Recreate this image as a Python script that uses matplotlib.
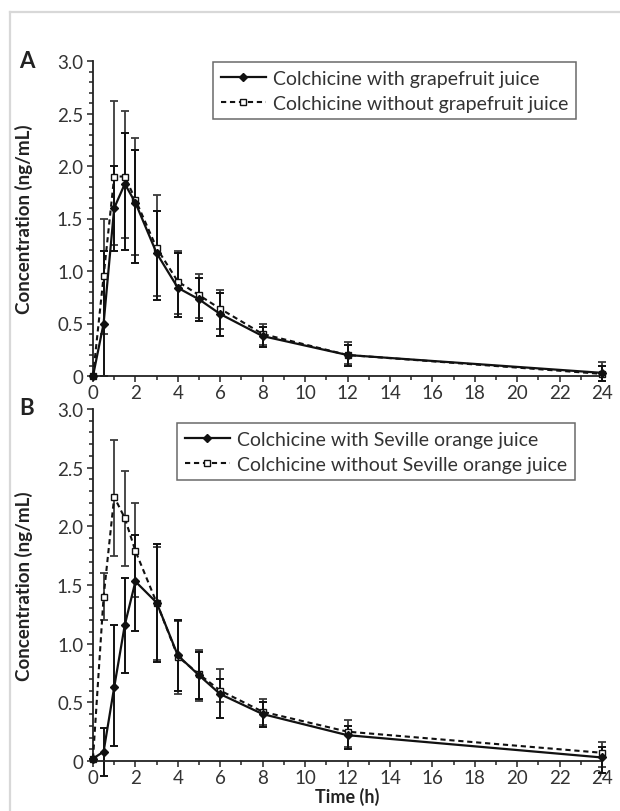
import numpy as np
import matplotlib
matplotlib.use("Agg")
import matplotlib.pyplot as plt
from matplotlib.lines import Line2D
from matplotlib.ticker import MultipleLocator, FuncFormatter

plt.rcParams["font.family"] = ["Lato", "DejaVu Sans"]

# sampling times (h)
times = [0, 0.5, 1, 1.5, 2, 3, 4, 5, 6, 8, 12, 24]

# Panel A: grapefruit juice
a_with = [0, 0.50, 1.60, 1.83, 1.65, 1.17, 0.84, 0.73, 0.59, 0.38, 0.20, 0.03]
a_with_lo = [0, 0.00, 1.19, 1.20, 1.08, 0.72, 0.56, 0.52, 0.38, 0.28, 0.10, -0.05]
a_with_hi = [0, 1.19, 2.00, 2.31, 2.15, 1.57, 1.17, 0.93, 0.79, 0.47, 0.30, 0.10]
a_wo = [0, 0.95, 1.90, 1.90, 1.68, 1.22, 0.90, 0.77, 0.64, 0.40, 0.20, 0.02]
a_wo_lo = [0, 0.40, 1.25, 1.31, 1.15, 0.76, 0.59, 0.55, 0.45, 0.30, 0.11, -0.05]
a_wo_hi = [0, 1.50, 2.62, 2.52, 2.27, 1.72, 1.19, 0.97, 0.82, 0.50, 0.32, 0.13]

# Panel B: Seville orange juice
b_with = [0.02, 0.08, 0.63, 1.16, 1.53, 1.35, 0.90, 0.73, 0.57, 0.40, 0.22, 0.03]
b_with_lo = [0.02, -0.13, 0.13, 0.75, 1.11, 0.84, 0.60, 0.53, 0.37, 0.29, 0.10, -0.10]
b_with_hi = [0.02, 0.28, 1.16, 1.56, 1.93, 1.85, 1.20, 0.93, 0.70, 0.50, 0.30, 0.12]
b_wo = [0.02, 1.40, 2.25, 2.07, 1.79, 1.35, 0.89, 0.74, 0.60, 0.42, 0.25, 0.07]
b_wo_lo = [0.02, 1.20, 1.75, 1.66, 1.40, 0.86, 0.57, 0.51, 0.50, 0.31, 0.12, -0.05]
b_wo_hi = [0.02, 1.60, 2.74, 2.47, 2.20, 1.82, 1.19, 0.95, 0.78, 0.53, 0.35, 0.16]

panels = [
    ("A", "grapefruit juice", a_with, a_with_lo, a_with_hi, a_wo, a_wo_lo, a_wo_hi),
    ("B", "Seville orange juice", b_with, b_with_lo, b_with_hi, b_wo, b_wo_lo, b_wo_hi),
]

W, H = 620, 812
fig = plt.figure(figsize=(W / 100, H / 100), dpi=100)

# page frame (top and left edge only)
fig.add_artist(Line2D([10 / W, 1], [1 - 13 / H, 1 - 13 / H], color="#d8d8d8", lw=1.6))
fig.add_artist(Line2D([10 / W, 10 / W], [0, 1 - 13 / H], color="#d8d8d8", lw=1.6))

ax_rects = [
    [93 / W, 1 - 377 / H, 509 / W, 315 / H],
    [93 / W, 1 - 762 / H, 509 / W, 352 / H],
]
legend_anchor = [(213 / W, 1 - 63 / H), (177 / W, 1 - 424 / H)]
letter_y = [62, 409]

fs = 13.5


def fmt_y(v, _):
    return "0" if abs(v) < 1e-9 else f"{v:.1f}"


for i, (letter, juice, w, wlo, whi, wo, wolo, wohi) in enumerate(panels):
    ax = fig.add_axes(ax_rects[i])
    t = np.array(times)
    w, wlo, whi = np.array(w), np.array(wlo), np.array(whi)
    wo, wolo, wohi = np.array(wo), np.array(wolo), np.array(wohi)

    eb1 = ax.errorbar(t, wo, yerr=[wo - wolo, wohi - wo], fmt="none", ecolor="#3a3a3a",
                      elinewidth=1.3, capsize=2.8, capthick=1.3, zorder=2)
    eb2 = ax.errorbar(t, w, yerr=[w - wlo, whi - w], fmt="none", ecolor="#111111",
                      elinewidth=1.4, capsize=2.8, capthick=1.4, zorder=2)
    for eb in (eb1, eb2):
        for art in eb.lines[1] + eb.lines[2]:
            art.set_clip_on(False)

    ax.plot(t, wo, ls=(0, (2.5, 1.8)), color="#111111", lw=1.5, marker="s", ms=5,
            mfc="white", mec="#111111", mew=1.0, zorder=3, clip_on=False,
            label=f"Colchicine without {juice}")
    ax.plot(t, w, ls="-", color="#111111", lw=1.6, marker="D", ms=4.5,
            mfc="#111111", mec="#111111", zorder=4, clip_on=False,
            label=f"Colchicine with {juice}")

    ax.set_xlim(0, 24)
    ax.set_ylim(0, 3.0)
    ax.spines["top"].set_visible(False)
    ax.spines["right"].set_visible(False)
    for s in ("left", "bottom"):
        ax.spines[s].set_linewidth(1.3)
        ax.spines[s].set_color("#222222")

    ax.xaxis.set_major_locator(MultipleLocator(2))
    ax.xaxis.set_minor_locator(MultipleLocator(1))
    ax.yaxis.set_major_locator(MultipleLocator(0.5))
    ax.yaxis.set_minor_locator(MultipleLocator(0.1))
    ax.yaxis.set_major_formatter(FuncFormatter(fmt_y))
    ax.tick_params(which="both", direction="out", color="#222222", width=1.1)
    ax.tick_params(which="major", length=4, labelsize=fs, labelcolor="#333333")
    ax.tick_params(which="minor", length=3)
    ax.tick_params(axis="x", pad=1.5)
    ax.tick_params(axis="y", pad=3)

    ax.set_ylabel("Concentration (ng/mL)", fontsize=fs, fontweight="bold", color="#222222")
    ax.yaxis.set_label_coords(-0.118, 0.5)

    handles, labels = ax.get_legend_handles_labels()
    leg = ax.legend(handles[::-1], labels[::-1], loc="upper left",
                    bbox_to_anchor=legend_anchor[i], bbox_transform=fig.transFigure,
                    fontsize=14, frameon=True, fancybox=False, handlelength=2.3,
                    handletextpad=0.4, borderpad=0.4, labelspacing=0.4,
                    borderaxespad=0)
    leg.get_frame().set_edgecolor("#444444")
    leg.get_frame().set_linewidth(1.1)
    for txt in leg.get_texts():
        txt.set_color("#333333")

    fig.text(27 / W, 1 - letter_y[i] / H, letter, fontsize=16, fontweight="bold",
             ha="center", va="center", color="#222222")

    if i == 1:
        ax.set_xlabel("Time (h)", fontsize=13, fontweight="bold", color="#222222", labelpad=1)

fig.savefig("out.png", dpi=100)
